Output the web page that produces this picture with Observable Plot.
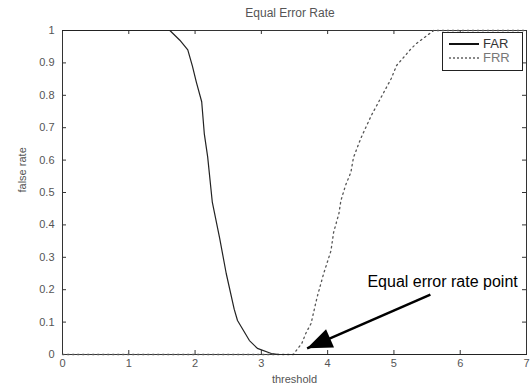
<!DOCTYPE html>
<html>
<head>
<meta charset="utf-8">
<script src="https://cdn.jsdelivr.net/npm/d3@7"></script>
<script src="https://cdn.jsdelivr.net/npm/@observablehq/plot@0.6"></script>
<style>
  body { margin: 0; background: #fff; font-family: "Liberation Sans", Arial, sans-serif; }
  #wrap { position: relative; width: 531px; height: 387px; overflow: hidden; }
  #title { position: absolute; left: 195px; top: 6px; width: 190px; text-align: center; font-size: 12px; color: #555; }
  #chart { position: absolute; left: 0; top: 22px; }
  #legend { position: absolute; left: 442px; top: 32px; width: 81px; height: 39px; box-sizing: border-box;
            border: 1px solid #222; background: #fff; }
  .sw { position: absolute; left: 6px; width: 30px; height: 0; }
  .lt { position: absolute; left: 40px; font-size: 13px; line-height: 15px; }
</style>
</head>
<body>
<div id="wrap">
  <div id="title">Equal Error Rate</div>
  <div id="chart"></div>
  <div id="legend">
    <div class="sw" style="top:10px;border-top:2px solid #111;"></div>
    <div class="lt" style="top:3px;color:#333;">FAR</div>
    <div class="sw" style="top:24px;border-top:2px dotted #888;"></div>
    <div class="lt" style="top:17px;color:#777;">FRR</div>
  </div>
</div>
<script>
// ---- data ----
const xTicks = [0, 1, 2, 3, 4, 5, 6, 7];
const yTicks = [0, 0.1, 0.2, 0.3, 0.4, 0.5, 0.6, 0.7, 0.8, 0.9, 1];

const farX = [0, 1.62, 1.77, 1.89, 1.96, 2.02, 2.10, 2.14, 2.19, 2.26, 2.37, 2.47, 2.59, 2.64, 2.82, 2.94, 3.15, 3.27, 7];
const farY = [1, 1, 0.97, 0.94, 0.89, 0.84, 0.78, 0.68, 0.61, 0.47, 0.36, 0.25, 0.14, 0.105, 0.043, 0.019, 0.003, 0, 0];

const frrX = [0, 3.48, 3.61, 3.67, 3.75, 3.84, 3.94, 4.05, 4.09, 4.17, 4.20, 4.27, 4.35, 4.39, 4.50, 4.59, 4.66, 4.96, 5.04, 5.26, 5.34, 5.6, 7];
const frrY = [0, 0, 0.034, 0.065, 0.096, 0.176, 0.25, 0.32, 0.377, 0.435, 0.475, 0.522, 0.562, 0.608, 0.667, 0.707, 0.738, 0.852, 0.892, 0.944, 0.96, 1, 1];

const noteText = "Equal error rate point";
const noteX = 4.60, noteY = 0.225;
const arrowTail = [5.55, 0.185];
const arrowTip = [3.69, 0.019];

// ---- build ----
const far = farX.map((x, i) => ({x, y: farY[i]}));
const frr = frrX.map((x, i) => ({x, y: frrY[i]}));
const arrow = [{x1: arrowTail[0], y1: arrowTail[1], x2: arrowTip[0], y2: arrowTip[1]}];
const note = [{x: noteX, y: noteY, text: noteText}];

const headSymbol = {
  draw(context) {
    context.moveTo(0, 0);
    context.lineTo(-10, 25);
    context.lineTo(10, 25);
    context.closePath();
  }
};

const mL = 62, mR = 5, mT = 8, mB = 33, W = 531, H = 365;
const frameW = W - mL - mR;
const frameH = H - mT - mB;
const tickLen = 4;

const chart = Plot.plot({
  width: W,
  height: H,
  marginTop: mT,
  marginBottom: mB,
  marginLeft: mL,
  marginRight: mR,
  style: {fontSize: "11px", fontFamily: "Liberation Sans, Arial, sans-serif", color: "#555", background: "transparent"},
  x: {domain: [0, 7]},
  y: {domain: [0, 1]},
  marks: [
    Plot.frame({stroke: "#333"}),
    Plot.ruleX(xTicks, {x: d => d, insetTop: frameH - tickLen, stroke: "#333"}),
    Plot.ruleX(xTicks, {x: d => d, insetBottom: frameH - tickLen, stroke: "#333"}),
    Plot.ruleY(yTicks, {y: d => d, insetRight: frameW - tickLen, stroke: "#333"}),
    Plot.ruleY(yTicks, {y: d => d, insetLeft: frameW - tickLen, stroke: "#333"}),
    Plot.axisX(xTicks, {tickSize: 0, tickPadding: 5, label: null, fill: "#555", tickFormat: d3.format("~g")}),
    Plot.axisY(yTicks, {tickSize: 0, tickPadding: 8, label: null, fill: "#555", tickFormat: d3.format("~g")}),
    Plot.line(frr, {x: "x", y: "y", stroke: "#555", strokeWidth: 1.3, strokeDasharray: "1.5,3.5"}),
    Plot.line(far, {x: "x", y: "y", stroke: "#222", strokeWidth: 1.2}),
    Plot.link(arrow, {x1: "x1", y1: "y1", x2: "x2", y2: "y2", stroke: "#000", strokeWidth: 2.5}),
    Plot.dot(arrow, {x: "x2", y: "y2", symbol: headSymbol, rotate: 246.5, fill: "#000", stroke: "none"}),
    Plot.text(note, {x: "x", y: "y", text: "text", textAnchor: "start", fontSize: 16, fill: "#000"}),
    Plot.text(["threshold"], {text: d => d, frameAnchor: "bottom", dy: 28, fontSize: 11, fill: "#555"}),
    Plot.text(["false rate"], {text: d => d, frameAnchor: "left", dx: -40, rotate: -90, fontSize: 11, fill: "#555"})
  ]
});
document.getElementById("chart").appendChild(chart);
</script>
</body>
</html>
